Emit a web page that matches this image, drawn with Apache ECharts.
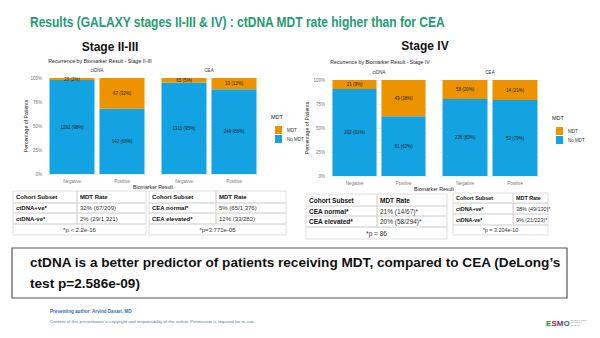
<!DOCTYPE html>
<html><head><meta charset="utf-8">
<script src="https://cdn.jsdelivr.net/npm/echarts@6/dist/echarts.min.js"></script>
<style>html,body{margin:0;padding:0;background:#fff}#c{width:600px;height:338px}</style>
</head><body><div id="c"></div>
<script>
// ---------- data ----------
const categories = ['Negative', 'Positive'];
const s23CtdnaMdt = [29, 67];
const s23CtdnaNoMdt = [1292, 142];
const s23CeaMdt = [65, 33];
const s23CeaNoMdt = [1311, 249];
const s4CtdnaMdt = [21, 49];
const s4CtdnaNoMdt = [202, 81];
const s4CeaMdt = [58, 14];
const s4CeaNoMdt = [236, 53];
const seriesNames = ['MDT', 'No MDT'];
const facetNames = ['ctDNA', 'CEA'];

const table1 = [['Cohort Subset', 'MDT Rate'], ['ctDNA+ve*', '32% (67/209)'], ['ctDNA-ve*', '2% (29/1,321)']];
const table1P = '*p < 2.2e-16';
const table2 = [['Cohort Subset', 'MDT Rate'], ['CEA normal*', '5% (65/1,376)'], ['CEA elevated*', '12% (33/282)']];
const table2P = '*p=3.771e-05';
const table3 = [['Cohort Subset', 'MDT Rate'], ['CEA normal*', '21% (14/67)*'], ['CEA elevated*', '20% (58/294)*']];
const table3P = '*p = 86';
const table4 = [['Cohort Subset', 'MDT Rate'], ['ctDNA+ve*', '38% (49/130)*'], ['ctDNA-ve*', '9% (21/223)*']];
const table4P = '*p = 3.204e-10';

// ---------- styling ----------
const ORANGE = '#EE9300';
const BLUE = '#13A3E2';
const FONT = 'Liberation Sans, Arial, sans-serif';

const grids = [
  { left: 47, top: 78, width: 100, height: 96 },
  { left: 159, top: 78, width: 100, height: 96 },
  { left: 330, top: 80, width: 98, height: 96 },
  { left: 440, top: 80, width: 100, height: 96 }
];
const panels = [
  [s23CtdnaMdt, s23CtdnaNoMdt],
  [s23CeaMdt, s23CeaNoMdt],
  [s4CtdnaMdt, s4CtdnaNoMdt],
  [s4CeaMdt, s4CeaNoMdt]
];

const xAxes = [], yAxes = [], series = [];
panels.forEach((p, i) => {
  xAxes.push({
    type: 'category', gridIndex: i, data: categories,
    axisLine: { show: false }, axisTick: { show: false },
    axisLabel: { fontSize: 4.5, color: '#777', margin: 5, fontFamily: FONT },
    splitLine: { show: false }
  });
  yAxes.push({
    type: 'value', gridIndex: i, min: 0, max: 100, interval: 25,
    axisLine: { show: false }, axisTick: { show: false },
    axisLabel: { show: i % 2 === 0, fontSize: 4.5, color: '#777', margin: 5, formatter: '{value}%', fontFamily: FONT },
    splitLine: { lineStyle: { color: '#e6e6e6', width: 0.6 } },
    minorTick: { show: false, splitNumber: 2 },
    minorSplitLine: { show: true, lineStyle: { color: '#f3f3f3', width: 0.5 } }
  });
  const totals = p[0].map((v, k) => v + p[1][k]);
  const mk = (arr) => arr.map((v, k) => ({ value: v / totals[k] * 100, count: v }));
  const lbl = {
    show: true, position: 'inside', fontSize: 4.5, color: '#222', fontFamily: FONT,
    formatter: (q) => q.data.count + ' (' + Math.round(q.data.value) + '%)'
  };
  series.push({
    name: seriesNames[1], type: 'bar', xAxisIndex: i, yAxisIndex: i, stack: 's' + i,
    data: mk(p[1]), itemStyle: { color: BLUE }, label: lbl, barCategoryGap: '10%'
  });
  series.push({
    name: seriesNames[0], type: 'bar', xAxisIndex: i, yAxisIndex: i, stack: 's' + i,
    data: mk(p[0]), itemStyle: { color: ORANGE }, label: lbl, barCategoryGap: '10%'
  });
});

function txt(x, y, text, size, opts) {
  opts = opts || {};
  return {
    type: 'text', x: x, y: y, rotation: opts.rotation || 0, scaleX: opts.scaleX || 1, z: 10,
    style: {
      text: text, fill: opts.color || '#111',
      font: (opts.weight || 'normal') + ' ' + size + 'px ' + (opts.family || FONT),
      textAlign: opts.align || 'left', textVerticalAlign: 'middle'
    }
  };
}

function makeTable(x0, colX, x1, rowYs, rows, pText, size) {
  const els = [];
  const cellStroke = { stroke: '#d6d6d6', lineWidth: 0.8, fill: 'none' };
  for (let r = 0; r < rows.length; r++) {
    const y = rowYs[r], h = rowYs[r + 1] - rowYs[r];
    els.push({ type: 'rect', shape: { x: x0, y: y, width: colX - x0, height: h }, style: cellStroke });
    els.push({ type: 'rect', shape: { x: colX, y: y, width: x1 - colX, height: h }, style: cellStroke });
    els.push(txt(x0 + 3, y + h / 2, rows[r][0], size, { weight: 'bold' }));
    els.push(txt(colX + 3, y + h / 2, rows[r][1], size, { weight: r === 0 ? 'bold' : 'normal', color: r === 0 ? '#111' : '#333' }));
  }
  const yp = rowYs[rows.length], hp = rowYs[rows.length + 1] - yp;
  els.push({ type: 'rect', shape: { x: x0, y: yp, width: x1 - x0, height: hp }, style: cellStroke });
  els.push(txt((x0 + x1) / 2, yp + hp / 2, pText, size, { align: 'center', color: '#333' }));
  return els;
}

const graphics = [];
graphics.push(txt(30, 22, 'Results (GALAXY stages II-III & IV) : ctDNA MDT rate higher than for CEA', 15,
  { weight: 'bold', color: '#1E9C74', scaleX: 0.8 }));
graphics.push(txt(110, 47, 'Stage II-III', 12, { weight: 'bold', align: 'center' }));
graphics.push(txt(425, 46, 'Stage IV', 12, { weight: 'bold', align: 'center' }));
graphics.push(txt(100, 61, 'Recurrence by Biomarker Result - Stage II-III', 5.2, { align: 'center', color: '#222' }));
graphics.push(txt(380, 62, 'Recurrence by Biomarker Result - Stage IV', 5.2, { align: 'center', color: '#222' }));
// facet strips
[[97, 70], [209, 70], [379, 72], [490, 72]].forEach((pt, i) => {
  graphics.push(txt(pt[0], pt[1], facetNames[i % 2], 4.5, { align: 'center', color: '#333' }));
});
// axis titles
graphics.push(txt(26, 126, 'Percentage of Patients', 5.2, { align: 'center', rotation: Math.PI / 2, color: '#222' }));
graphics.push(txt(307, 128, 'Percentage of Patients', 5.2, { align: 'center', rotation: Math.PI / 2, color: '#222' }));
graphics.push(txt(153, 187, 'Biomarker Result', 5.2, { align: 'center', color: '#222' }));
graphics.push(txt(434, 189, 'Biomarker Result', 5.2, { align: 'center', color: '#222' }));
// legend titles
graphics.push(txt(271, 117, 'MDT', 5.5, { color: '#222' }));
graphics.push(txt(552, 118, 'MDT', 5.5, { color: '#222' }));
// tables
graphics.push(...makeTable(13, 77, 146, [191, 203, 213, 224, 235], table1, table1P, 6));
graphics.push(...makeTable(149, 216, 286, [191, 203, 213, 224, 235], table2, table2P, 6));
graphics.push(...makeTable(306, 377, 447, [194, 206, 216, 227, 239], table3, table3P, 6.5));
graphics.push(...makeTable(453, 513, 548, [193, 203, 214, 225, 235], table4, table4P, 5.4));
// conclusion box
graphics.push({ type: 'rect', shape: { x: 12, y: 248, width: 555, height: 50 }, style: { fill: 'none', stroke: '#555', lineWidth: 1.2 } });
graphics.push(txt(30, 262, 'ctDNA is a better predictor of patients receiving MDT, compared to CEA (DeLong\u2019s', 13.6, { weight: 'bold' }));
graphics.push(txt(30, 283, 'test p=2.586e-09)', 13.6, { weight: 'bold' }));
// footer
graphics.push(txt(50, 311, 'Presenting author: Arvind Dasari, MD', 4.6, { weight: 'bold', color: '#2F6FAE' }));
graphics.push(txt(50, 321, 'Content of this presentation is copyright and responsibility of the author. Permission is required for re-use.', 4.4, { color: '#4D7FB0' }));
// logo
const logoLetters = [['E', '#2E8B3A', 546], ['S', '#C8102E', 551.4], ['M', '#7B2D7F', 556.8], ['O', '#1F5FA8', 563.6]];
logoLetters.forEach((l) => graphics.push(txt(l[2], 323, l[0], 8, { weight: 'bold', color: l[1] })));
graphics.push(txt(571, 320.5, 'EUROPEAN SOCIETY', 1.6, { color: '#888' }));
graphics.push(txt(571, 323, 'FOR MEDICAL', 1.6, { color: '#888' }));
graphics.push(txt(571, 325.5, 'ONCOLOGY', 1.6, { color: '#888' }));

const chart = echarts.init(document.getElementById('c'), null, { renderer: 'svg' });
chart.setOption({
  animation: false,
  backgroundColor: '#ffffff',
  grid: grids,
  xAxis: xAxes,
  yAxis: yAxes,
  series: series,
  legend: [
    { left: 270, top: 121, orient: 'vertical', data: seriesNames, icon: 'rect', itemWidth: 7, itemHeight: 8, itemGap: 1, textStyle: { fontSize: 4.5, color: '#333', fontFamily: FONT }, selectedMode: false },
    { left: 551, top: 122, orient: 'vertical', data: seriesNames, icon: 'rect', itemWidth: 7, itemHeight: 8, itemGap: 1, textStyle: { fontSize: 4.5, color: '#333', fontFamily: FONT }, selectedMode: false }
  ],
  graphic: graphics
});
</script>
</body></html>
